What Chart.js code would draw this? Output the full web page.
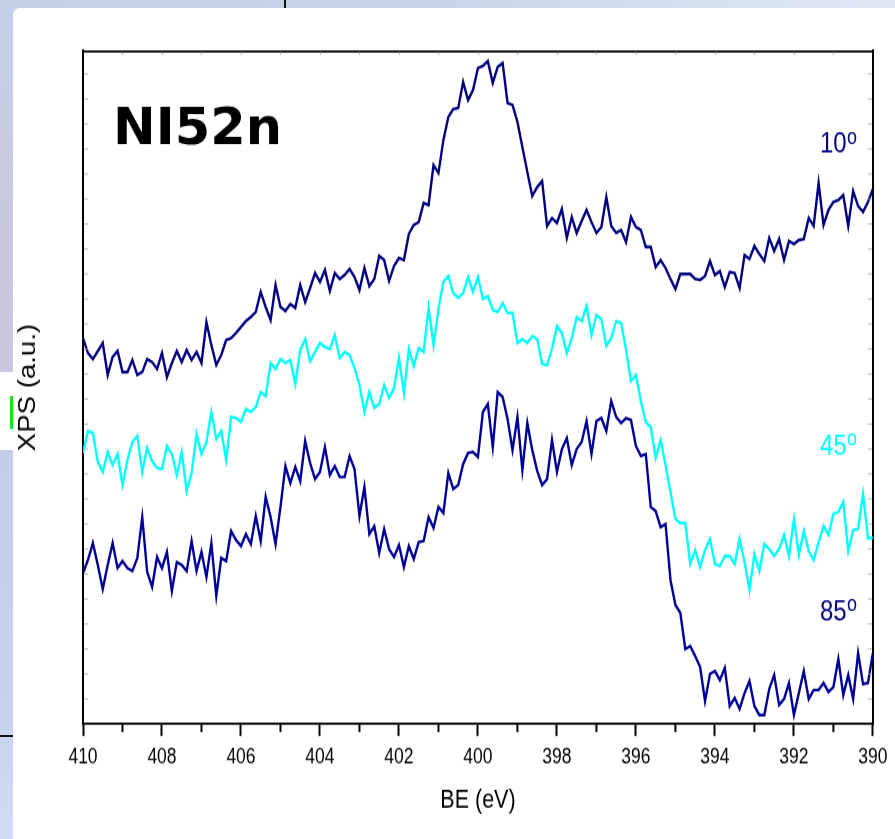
<!DOCTYPE html>
<html>
<head>
<meta charset="utf-8">
<title>NI52n – N 1s XPS vs take-off angle</title>
<script src="https://cdn.jsdelivr.net/npm/chart.js@4.4.1/dist/chart.umd.min.js"></script>
<style>
  html, body { margin: 0; padding: 0; }
  body { width: 895px; height: 839px; overflow: hidden; position: relative; background: #c8d3ec; }
  #topStrip { position: absolute; left: 0; top: 0; width: 895px; height: 8px;
    background: linear-gradient(to right, #c4d0ea, #c9d5ec 50%, #dfe7f4); }
  #leftStrip { position: absolute; left: 0; top: 0; width: 13px; height: 839px;
    background: linear-gradient(to bottom, #c4d0ea 0px, #c8cae2 150px, #cac5de 300px, #c9c6df 372px,
      #ffffff 372px, #ffffff 450px, #c3cdea 450px, #c6d2ee 700px, #d0dcf3 839px); }
  #greenMark { position: absolute; left: 10px; top: 396px; width: 3px; height: 33px; background: #14e614; }
  #topRule { position: absolute; left: 284px; top: 0; width: 2px; height: 8px; background: #111; }
  #leftRule { position: absolute; left: 0; top: 735px; width: 13px; height: 2px; background: #111; }
  #card { position: absolute; left: 13px; top: 8px; right: 0; bottom: 0; background: #fff;
    border-top-left-radius: 7px; }
  /* the figure is drawn on a 895x699 canvas and shown stretched to the slide height */
  #wrap { position: absolute; left: 0; top: 0; width: 895px; height: 699px;
    transform: scaleY(1.20029); transform-origin: 0 0; }
</style>
</head>
<body>
<div id="topStrip"></div>
<div id="leftStrip"></div>
<div id="greenMark"></div>
<div id="topRule"></div>
<div id="leftRule"></div>
<div id="card"></div>
<div id="wrap"><canvas id="xps" width="895" height="699"></canvas></div>
<script>
// Binding energy grid (eV), 0.125 eV steps
const BE = [
  410,409.875,409.75,409.625,409.5,409.375,409.25,409.125,
  409,408.875,408.75,408.625,408.5,408.375,408.25,408.125,
  408,407.875,407.75,407.625,407.5,407.375,407.25,407.125,
  407,406.875,406.75,406.625,406.5,406.375,406.25,406.125,
  406,405.875,405.75,405.625,405.5,405.375,405.25,405.125,
  405,404.875,404.75,404.625,404.5,404.375,404.25,404.125,
  404,403.875,403.75,403.625,403.5,403.375,403.25,403.125,
  403,402.875,402.75,402.625,402.5,402.375,402.25,402.125,
  402,401.875,401.75,401.625,401.5,401.375,401.25,401.125,
  401,400.875,400.75,400.625,400.5,400.375,400.25,400.125,
  400,399.875,399.75,399.625,399.5,399.375,399.25,399.125,
  399,398.875,398.75,398.625,398.5,398.375,398.25,398.125,
  398,397.875,397.75,397.625,397.5,397.375,397.25,397.125,
  397,396.875,396.75,396.625,396.5,396.375,396.25,396.125,
  396,395.875,395.75,395.625,395.5,395.375,395.25,395.125,
  395,394.875,394.75,394.625,394.5,394.375,394.25,394.125,
  394,393.875,393.75,393.625,393.5,393.375,393.25,393.125,
  393,392.875,392.75,392.625,392.5,392.375,392.25,392.125,
  392,391.875,391.75,391.625,391.5,391.375,391.25,391.125,
  391,390.875,390.75,390.625,390.5,390.375,390.25,390.125,
  390
];

// Stacked N 1s intensities (a.u.) at each take-off angle
const I_10 = [
  386,371,365,373,381,349,367,373,
  352,352,364,349,352,365,362,355,
  371,347,361,373,362,374,364,372,
  361,402,379,359,369,384,386,391,
  397,403,407,412,432,417,404,439,
  417,413,420,416,439,422,436,451,
  442,454,433,451,445,449,455,447,
  434,456,438,445,468,464,443,458,
  466,464,490,499,502,521,519,559,
  551,584,607,615,616,642,624,634,
  656,658,663,641,657,661,621,619,
  602,577,552,528,537,543,498,506,
  501,515,486,507,491,503,514,502,
  491,497,527,498,491,494,482,507,
  497,494,477,477,457,464,456,445,
  435,450,450,450,445,444,448,463,
  449,453,437,452,451,436,469,465,
  478,470,463,486,473,485,464,483,
  480,484,485,506,498,541,499,514,
  522,524,529,498,533,518,512,522,
  535
];
const I_45 = [
  271,293,291,262,252,272,259,270,
  239,264,282,288,252,276,263,256,
  255,278,270,249,272,233,251,290,
  270,282,312,285,293,264,307,306,
  302,315,312,317,332,328,361,355,
  365,361,364,340,374,385,363,372,
  381,377,375,389,366,372,369,356,
  339,312,332,316,320,339,326,336,
  366,331,375,358,376,372,416,379,
  415,442,448,431,426,431,447,432,
  447,425,428,414,412,421,411,411,
  381,385,381,388,385,360,359,375,
  398,391,371,386,407,403,418,389,
  409,405,378,386,403,401,374,343,
  349,323,302,297,266,284,259,232,
  205,201,201,160,174,157,174,185,
  160,158,168,168,160,185,162,134,
  170,153,180,175,168,175,189,168,
  205,169,193,173,164,182,198,189,
  210,212,222,173,194,195,230,186,
  186
];
const I_85 = [
  151,164,181,159,135,159,181,156,
  163,156,153,166,207,152,137,167,
  156,172,133,162,159,153,183,153,
  172,147,181,128,166,163,193,184,
  178,190,180,208,183,227,207,180,
  217,258,241,257,243,283,261,245,
  252,277,249,258,247,247,268,255,
  208,237,190,198,171,195,175,167,
  179,157,178,165,182,183,207,196,
  217,211,251,235,239,260,271,272,
  267,312,320,277,332,327,305,274,
  307,254,301,274,253,239,245,284,
  252,275,286,259,275,282,303,270,
  303,306,293,323,307,301,306,304,
  278,268,270,217,213,197,200,144,
  119,111,75,78,68,57,23,50,
  53,44,56,18,26,15,31,43,
  18,9,9,35,49,19,25,41,
  9,31,53,25,34,34,41,32,
  37,65,29,49,25,71,40,41,
  71
];

const angleNames = ['10', '45', '85'];
const energyTicks = [410, 408, 406, 404, 402, 400, 398, 396, 394, 392, 390];

const SANS = "'Liberation Sans', Arial, sans-serif";
const STRETCH = 839 / 699;   // vertical stretch applied to the canvas by CSS

const toPoints = vals => BE.map((e, i) => ({ x: e, y: vals[i] }));

// Short inward ticks on the frame plus the unlabelled minor ticks of the energy axis
const frameTicks = {
  id: 'frameTicks',
  afterDraw(chart) {
    const { ctx, chartArea: a, scales } = chart;
    ctx.save();
    ctx.strokeStyle = '#000';
    ctx.lineWidth = 2;
    scales.x.ticks.forEach(t => {
      if (!energyTicks.includes(t.value)) {
        const px = scales.x.getPixelForValue(t.value);
        ctx.beginPath(); ctx.moveTo(px, a.bottom); ctx.lineTo(px, a.bottom + 6.7); ctx.stroke();
      }
    });
    ctx.strokeStyle = '#a9a9a9';
    ctx.lineWidth = 0.85;
    scales.y.ticks.slice(1, -1).forEach(t => {
      const py = scales.y.getPixelForValue(t.value);
      ctx.beginPath(); ctx.moveTo(a.left + 1, py); ctx.lineTo(a.left + 5, py); ctx.stroke();
      ctx.beginPath(); ctx.moveTo(a.right - 1, py); ctx.lineTo(a.right - 5, py); ctx.stroke();
    });
    ctx.lineWidth = 1;
    scales.x2.ticks.slice(1, -1).forEach(t => {
      const px = Math.round(scales.x2.getPixelForValue(t.value)) + 0.5;
      ctx.beginPath(); ctx.moveTo(px, a.top + 1); ctx.lineTo(px, a.top + 3); ctx.stroke();
    });
    ctx.restore();
  }
};

// Sample name and the take-off angle tags, placed in data coordinates
const tags = {
  id: 'tags',
  afterDatasetsDraw(chart, args, opts) {
    const { ctx, scales: { x, y } } = chart;
    ctx.save();
    ctx.textAlign = 'left';
    ctx.textBaseline = 'alphabetic';
    // sample name keeps its own proportions on the stretched canvas
    ctx.save();
    ctx.translate(x.getPixelForValue(opts.sample.be), y.getPixelForValue(opts.sample.at));
    ctx.scale(1, 1 / STRETCH);
    ctx.fillStyle = '#000';
    ctx.font = "bold 51px 'DejaVu Sans', Verdana, sans-serif";
    ctx.fillText(opts.sample.text, 0, 0);
    ctx.restore();
    opts.angles.forEach(tag => {
      ctx.font = '24px ' + SANS;
      const wNum = ctx.measureText(tag.text).width;
      ctx.font = '18px ' + SANS;
      const wSup = ctx.measureText('o').width;
      const right = x.getPixelForValue(tag.be);
      const base = y.getPixelForValue(tag.at);
      const left = right - wNum - wSup - 0.5;
      ctx.fillStyle = tag.color;
      ctx.font = '24px ' + SANS;
      ctx.fillText(tag.text, left, base);
      ctx.font = '18px ' + SANS;
      ctx.fillText('o', left + wNum + 0.5, base - 7.7);
    });
    ctx.restore();
  }
};

new Chart(document.getElementById('xps'), {
  type: 'line',
  data: {
    datasets: [
      { label: angleNames[0] + 'º', data: toPoints(I_10), borderColor: '#000080' },
      { label: angleNames[1] + 'º', data: toPoints(I_45), borderColor: '#00ffff' },
      { label: angleNames[2] + 'º', data: toPoints(I_85), borderColor: '#000096' }
    ]
  },
  options: {
    responsive: false,
    animation: false,
    devicePixelRatio: 1,
    layout: { padding: 0 },
    elements: {
      line: { borderWidth: 2.4, tension: 0, borderJoinStyle: 'miter', fill: false },
      point: { radius: 0, hoverRadius: 0 }
    },
    plugins: {
      legend: { display: false },
      tooltip: { enabled: false },
      tags: {
        sample: { text: 'NI52n', be: 409.24, at: 580 },
        angles: [
          { text: angleNames[0], be: 390.4, at: 571, color: '#000080' },
          { text: angleNames[1], be: 390.4, at: 269, color: '#00ffff' },
          { text: angleNames[2], be: 390.4, at: 104, color: '#000080' }
        ]
      }
    },
    scales: {
      x: {
        type: 'linear', position: 'bottom', min: 390, max: 410, reverse: true,
        ticks: {
          stepSize: 1, autoSkip: false, maxRotation: 0, padding: 7.5, color: '#000',
          font: { family: SANS, size: 17.5 },
          callback: v => energyTicks.includes(v) ? String(v) : ''
        },
        grid: {
          drawOnChartArea: false, drawTicks: true, tickLength: 10,
          tickColor: '#000', tickWidth: c => (c.tick && energyTicks.includes(c.tick.value)) ? 2 : 0
        },
        border: { display: true, color: '#000', width: 1.7 },
        title: {
          display: true, text: 'BE (eV)', color: '#000',
          font: { family: SANS, size: 21.5 }, padding: { top: 0, bottom: 18.8 }
        },
        afterFit: s => { s.height = 115 / STRETCH; }
      },
      x2: {
        type: 'linear', position: 'top', min: 390, max: 410, reverse: true,
        ticks: { display: false, stepSize: 1 },
        grid: { drawOnChartArea: false, drawTicks: false },
        border: { display: true, color: '#000', width: 1.7 },
        afterFit: s => { s.height = 51 / STRETCH; }
      },
      y: {
        type: 'linear', position: 'left', min: 0, max: 673,
        ticks: { display: false, stepSize: 25 },
        grid: { drawOnChartArea: false, drawTicks: false },
        border: { display: true, color: '#000', width: 2 },
        title: {
          display: true, text: 'XPS (a.u.)', color: '#000',
          font: { family: SANS, size: 23 }, padding: { top: 14.7, bottom: 0 }
        },
        afterFit: s => { s.width = 83; }
      },
      y2: {
        type: 'linear', position: 'right', min: 0, max: 673,
        ticks: { display: false, stepSize: 25 },
        grid: { drawOnChartArea: false, drawTicks: false },
        border: { display: true, color: '#000', width: 2 },
        afterFit: s => { s.width = 22; }
      }
    }
  },
  plugins: [frameTicks, tags]
});
</script>
</body>
</html>
